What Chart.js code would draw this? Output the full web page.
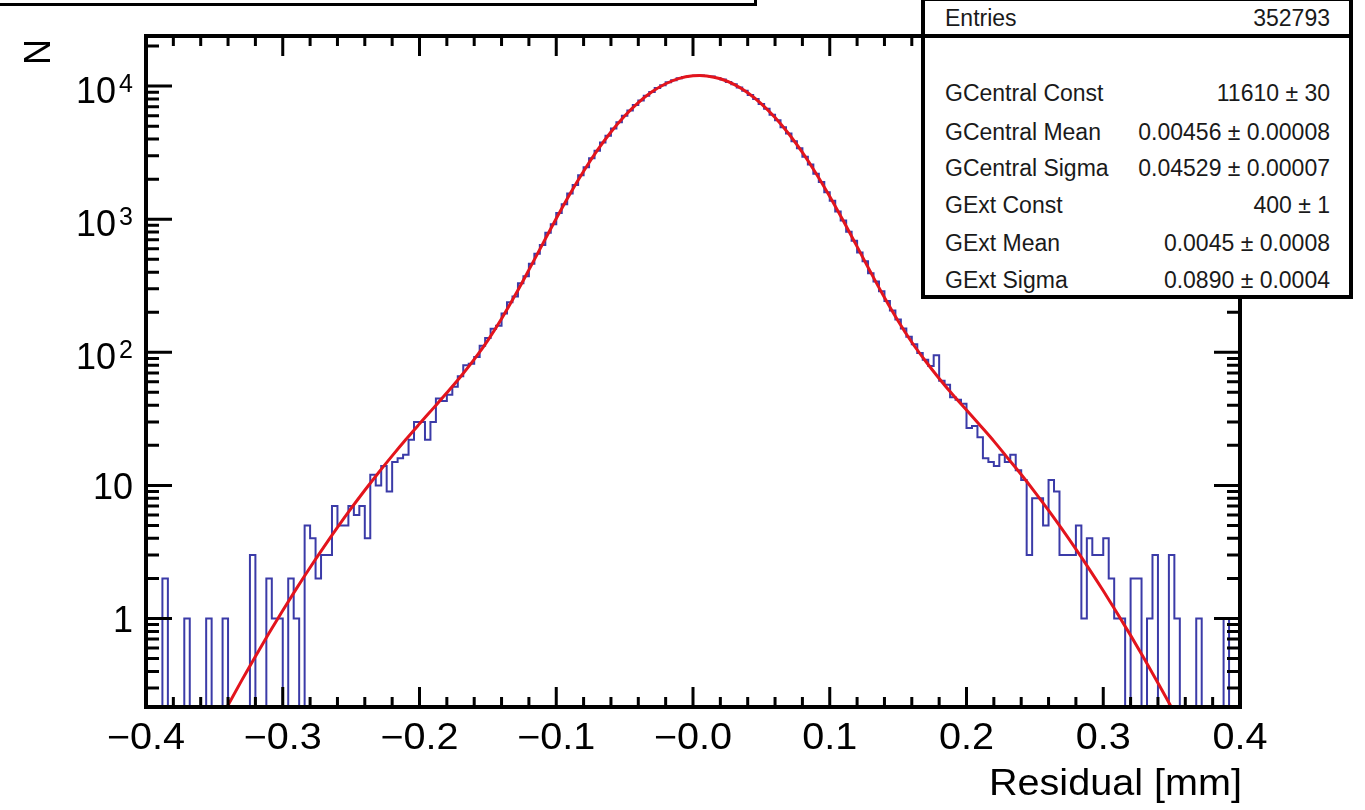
<!DOCTYPE html>
<html>
<head>
<meta charset="utf-8">
<title>Residual</title>
<script src="https://cdn.jsdelivr.net/npm/chart.js@4.4.1/dist/chart.umd.min.js"></script>
<style>
    html, body { margin: 0; padding: 0; background: #fff; }
    #wrap { position: relative; width: 1365px; height: 810px; overflow: hidden; font-family: "Liberation Sans", Arial, Helvetica, sans-serif; }
    #chart { position: absolute; left: 0; top: 0; }
    .titlebox { position: absolute; left: -5px; top: -40px; width: 762px; height: 46px; border: 3px solid #000; box-sizing: border-box; background: #fff; }
    .stats { position: absolute; left: 921px; top: -3px; width: 432px; height: 302px; border: 4px solid #000; box-sizing: border-box; background: #fff; }
    .stats .sep { position: absolute; left: 0; right: 0; top: 33px; border-top: 4px solid #000; }
    .stats .row { position: absolute; left: 20px; right: 19px; height: 28px; line-height: 28px; font-size: 23px; color: #1a1a1a; display: flex; justify-content: space-between; white-space: nowrap; }
</style>
</head>
<body>
<div id="wrap">
    <canvas id="chart" width="1365" height="810"></canvas>
    <div class="titlebox"></div>
    <div class="stats" id="stats"><div class="sep"></div></div>
</div>
<script>
// Histogram binning: 200 bins from -0.4 to 0.4
const binLow = -0.4;
const binWidth = 0.004;

// Counts per bin (0 = empty bin)
const binCounts = [
    0, 0, 0, 2, 0, 0, 0, 1, 0, 0,
    0, 1, 0, 0, 1, 0, 0, 0, 0, 3,
    0, 0, 2, 1, 1, 0, 2, 1, 0, 5,
    4, 2, 3, 3, 7, 5, 5, 7, 6, 7,
    4, 12, 10, 14, 9, 15, 16, 17, 22, 30,
    30, 22, 30, 45, 43, 48, 55, 66, 80, 82,
    92, 112, 128, 150, 158, 196, 238, 262, 330, 372,
    462, 551, 641, 790, 918, 1115, 1296, 1561, 1808, 2139,
    2458, 2871, 3270, 3772, 4236, 4810, 5349, 5982, 6551, 7224,
    7806, 8471, 9031, 9662, 10142, 10675, 11050, 11446, 11680, 11912,
    11975, 12031, 11908, 11784, 11481, 11196, 10740, 10318, 9745, 9231,
    8583, 8012, 7336, 6755, 6090, 5531, 4911, 4404, 3852, 3413,
    2943, 2578, 2192, 1903, 1596, 1377, 1140, 979, 805, 689,
    561, 483, 392, 340, 287, 243, 206, 176, 151, 131,
    115, 99, 88, 79, 95, 61, 57, 46, 44, 41,
    27, 28, 23, 16, 15, 14, 17, 15, 17, 13,
    11, 3, 8, 8, 5, 11, 9, 3, 3, 3,
    5, 1, 4, 3, 3, 4, 2, 1, 1, 0,
    2, 2, 0, 1, 3, 0, 0, 3, 1, 0,
    0, 0, 1, 0, 0, 0, 0, 1, 0, 0
];

// Fit curve (red)
const fitX = [
    -0.35, -0.34, -0.33, -0.32, -0.31, -0.30, -0.29, -0.28, -0.27, -0.26,
    -0.25, -0.24, -0.23, -0.22, -0.21, -0.20, -0.19, -0.18, -0.17, -0.16,
    -0.15, -0.14, -0.13, -0.12, -0.11, -0.10, -0.09, -0.08, -0.07, -0.06,
    -0.05, -0.04, -0.03, -0.02, -0.01, 0.00, 0.005, 0.01, 0.02, 0.03,
    0.04, 0.05, 0.06, 0.07, 0.08, 0.09, 0.10, 0.11, 0.12, 0.13,
    0.14, 0.15, 0.16, 0.17, 0.18, 0.19, 0.20, 0.21, 0.22, 0.23,
    0.24, 0.25, 0.26, 0.27, 0.28, 0.29, 0.30, 0.31, 0.32, 0.33,
    0.34, 0.35, 0.36
];
const fitY = [
    0.144, 0.223, 0.343, 0.519, 0.777, 1.149, 1.677, 2.417, 3.439, 4.833,
    6.71, 9.19, 12.45, 16.66, 22.1, 29.0, 37.9, 49.6, 65.5, 88.4,
    123, 178.6, 269, 416, 650, 1011, 1545, 2292, 3284, 4519,
    5960, 7517, 9056, 10415, 11424, 11954, 12010, 11925, 11349, 10292,
    8910, 7358, 5807, 4385, 3172, 2206, 1482, 968, 622, 398,
    258, 172, 119, 86, 63.6, 48, 36.9, 28.2, 21.5, 16.1,
    12.07, 8.91, 6.49, 4.67, 3.32, 2.33, 1.615, 1.105, 0.747, 0.498,
    0.328, 0.214, 0.137
];

// Axis ticks and labels
const xTickValues = [-0.4, -0.3, -0.2, -0.1, 0, 0.1, 0.2, 0.3, 0.4];
const xTickLabels = ['\u22120.4', '\u22120.3', '\u22120.2', '\u22120.1', '\u22120.0', '0.1', '0.2', '0.3', '0.4'];
const yTickValues = [1, 10, 100, 1000, 10000];
const yTickBase = ['1', '10', '10', '10', '10'];
const yTickExp = ['', '', '2', '3', '4'];
const xTitle = 'Residual [mm]';
const yTitle = 'N';

// Stats box
const statsHeader = ['Entries', '352793'];
const statsRows = [
    ['GCentral Const', '11610 \u00b1 30'],
    ['GCentral Mean', '0.00456 \u00b1 0.00008'],
    ['GCentral Sigma', '0.04529 \u00b1 0.00007'],
    ['GExt Const', '400 \u00b1 1'],
    ['GExt Mean', '0.0045 \u00b1 0.0008'],
    ['GExt Sigma', '0.0890 \u00b1 0.0004']
];

const yMin = 0.2163;
const yMax = 23790;
const zeroFloor = 0.05; // empty bins drop below the frame

// Build stats box text
(function buildStats() {
    const box = document.getElementById('stats');
    const tops = [3, 78, 117, 153, 190, 228, 265];
    const rows = [statsHeader, ...statsRows];
    rows.forEach((r, i) => {
        const row = document.createElement('div');
        row.className = 'row';
        row.style.top = tops[i] + 'px';
        const l = document.createElement('span');
        l.textContent = r[0];
        const v = document.createElement('span');
        v.textContent = r[1];
        row.appendChild(l);
        row.appendChild(v);
        box.appendChild(row);
    });
})();

// Draw text with a slight horizontal stretch (ROOT labels run wide)
function wideText(ctx, text, x, y, align, sx) {
    ctx.save();
    ctx.translate(x, y);
    ctx.scale(sx, 1);
    ctx.textAlign = align;
    ctx.fillText(text, 0, 0);
    ctx.restore();
}

// ROOT style frame: inward ticks on all four sides, labels outside
const rootFrame = {
    id: 'rootFrame',
    afterDraw(chart) {
        const { ctx, chartArea: a } = chart;
        const xs = chart.scales.x;
        const ys = chart.scales.y;
        ctx.save();
        ctx.strokeStyle = '#000';
        ctx.lineWidth = 3;
        ctx.lineCap = 'butt';
        ctx.beginPath();
        for (let i = 0; i <= 40; i++) {
            const px = xs.getPixelForValue(-0.4 + i * 0.02);
            const len = i % 5 === 0 ? 20 : 10;
            ctx.moveTo(px, a.bottom);
            ctx.lineTo(px, a.bottom - len);
            ctx.moveTo(px, a.top);
            ctx.lineTo(px, a.top + len);
        }
        for (let d = -1; d <= 4; d++) {
            for (let m = 1; m <= 9; m++) {
                const v = m * Math.pow(10, d);
                if (v < yMin || v > yMax) continue;
                const py = ys.getPixelForValue(v);
                const len = m === 1 ? 26 : 13;
                ctx.moveTo(a.left, py);
                ctx.lineTo(a.left + len, py);
                ctx.moveTo(a.right, py);
                ctx.lineTo(a.right - len, py);
            }
        }
        ctx.stroke();

        ctx.lineWidth = 4;
        ctx.strokeRect(a.left, a.top, a.right - a.left, a.bottom - a.top);

        // x labels
        ctx.fillStyle = '#000';
        ctx.font = '36px "Liberation Sans", Arial, sans-serif';
        ctx.textBaseline = 'alphabetic';
        xTickValues.forEach((v, i) => {
            wideText(ctx, xTickLabels[i], xs.getPixelForValue(v), a.bottom + 42, 'center', 1.1);
        });

        // y labels with superscript exponents
        yTickValues.forEach((v, i) => {
            const py = ys.getPixelForValue(v);
            const right = a.left - 13;
            let ew = 0;
            ctx.textAlign = 'right';
            if (yTickExp[i]) {
                ctx.font = '25px "Liberation Sans", Arial, sans-serif';
                ew = ctx.measureText(yTickExp[i]).width + 3;
                ctx.fillText(yTickExp[i], right, py + 6);
            }
            ctx.font = '36px "Liberation Sans", Arial, sans-serif';
            ctx.fillText(yTickBase[i], right - ew, yTickExp[i] ? py + 17 : py + 14);
        });

        // axis titles
        ctx.font = '36px "Liberation Sans", Arial, sans-serif';
        wideText(ctx, xTitle, a.right + 2, a.bottom + 88, 'right', 1.1);
        ctx.save();
        ctx.translate(50, 52);
        ctx.rotate(-Math.PI / 2);
        ctx.textAlign = 'center';
        ctx.fillText(yTitle, 0, 0);
        ctx.restore();
        ctx.restore();
    }
};

const histPoints = binCounts.map((c, k) => ({ x: binLow + binWidth * k, y: c > 0 ? c : zeroFloor }));
histPoints.push({ x: binLow + binWidth * binCounts.length, y: histPoints[histPoints.length - 1].y });
const fitPoints = fitX.map((x, i) => ({ x, y: fitY[i] }));

new Chart(document.getElementById('chart'), {
    type: 'line',
    data: {
        datasets: [
            {
                data: fitPoints,
                borderColor: '#e3141c',
                borderWidth: 3,
                cubicInterpolationMode: 'monotone',
                pointRadius: 0,
                fill: false
            },
            {
                data: histPoints,
                borderColor: '#3b3ba8',
                borderWidth: 2,
                stepped: 'before',
                pointRadius: 0,
                fill: false
            }
        ]
    },
    options: {
        responsive: false,
        animation: false,
        layout: { padding: { left: 146, right: 125, top: 36, bottom: 103 } },
        scales: {
            x: { type: 'linear', min: -0.4, max: 0.4, display: false },
            y: { type: 'logarithmic', min: yMin, max: yMax, display: false }
        },
        plugins: {
            legend: { display: false },
            tooltip: { enabled: false }
        }
    },
    plugins: [rootFrame]
});
</script>
</body>
</html>
